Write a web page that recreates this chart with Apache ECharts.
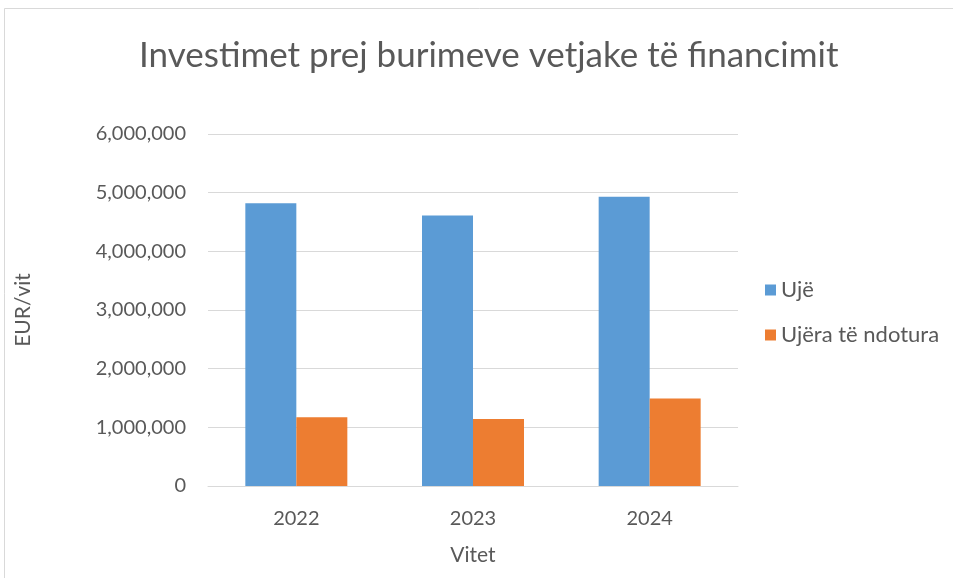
<!DOCTYPE html>
<html>
<head>
<meta charset="utf-8">
<script src="https://cdn.jsdelivr.net/npm/echarts@6/dist/echarts.min.js"></script>
<style>
  html, body { margin: 0; padding: 0; background: #fff; }
  #myCharts { width: 953px; height: 578px; }
</style>
</head>
<body>
<div id="myCharts"></div>
<script>
// data
var years = ["2022", "2023", "2024"];
var uje = [4820000, 4610000, 4930000];
var ujeraNdotura = [1170000, 1140000, 1490000];
var seriesNames = ["Ujë", "Ujëra të ndotura"];
var yTicks = [0, 1000000, 2000000, 3000000, 4000000, 5000000, 6000000];

var textColor = "#595959";
var fontFam = "Lato, 'Open Sans', sans-serif";

var myChart = echarts.init(document.getElementById("myCharts"));
myChart.setOption({
  animation: false,
  backgroundColor: "#fff",
  graphic: [
    {
      type: "rect",
      shape: { x: 4.5, y: 8.5, width: 1000, height: 700 },
      style: { fill: "none", stroke: "#d9d9d9", lineWidth: 1 },
      silent: true
    }
  ],
  title: {
    text: "Investimet prej burimeve vetjake të financimit",
    left: 134,
    top: 33,
    textStyle: {
      color: textColor,
      fontSize: 35,
      fontWeight: "normal",
      fontFamily: fontFam
    }
  },
  legend: {
    orient: "vertical",
    left: 760,
    top: 274,
    itemWidth: 11,
    itemHeight: 11,
    itemGap: 23,
    icon: "rect",
    textStyle: { color: textColor, fontSize: 22, fontFamily: fontFam }
  },
  grid: { left: 208, right: 215, top: 134, bottom: 92 },
  xAxis: {
    type: "category",
    data: years,
    name: "Vitet",
    nameLocation: "middle",
    nameGap: 59,
    nameTextStyle: { color: textColor, fontSize: 21, fontFamily: fontFam },
    axisLine: { lineStyle: { color: "#d9d9d9", width: 1 } },
    axisTick: { show: false },
    axisLabel: { color: textColor, fontSize: 20, margin: 23, fontFamily: fontFam }
  },
  yAxis: {
    type: "value",
    min: yTicks[0],
    max: yTicks[yTicks.length - 1],
    interval: 1000000,
    name: "EUR/vit",
    nameLocation: "middle",
    nameGap: 174,
    nameTextStyle: { color: textColor, fontSize: 21, fontFamily: fontFam },
    axisLine: { show: false },
    axisTick: { show: false },
    splitLine: { lineStyle: { color: "#d9d9d9", width: 1 } },
    axisLabel: {
      color: textColor,
      fontSize: 20,
      margin: 22,
      fontFamily: fontFam,
      formatter: function (v) { return v.toLocaleString("en-US"); }
    }
  },
  series: [
    {
      name: seriesNames[0],
      type: "bar",
      data: uje,
      barWidth: 51,
      barGap: "0%",
      itemStyle: { color: "#5B9BD5" }
    },
    {
      name: seriesNames[1],
      type: "bar",
      data: ujeraNdotura,
      barWidth: 51,
      barGap: "0%",
      itemStyle: { color: "#ED7D31" }
    }
  ]
});
</script>
</body>
</html>
